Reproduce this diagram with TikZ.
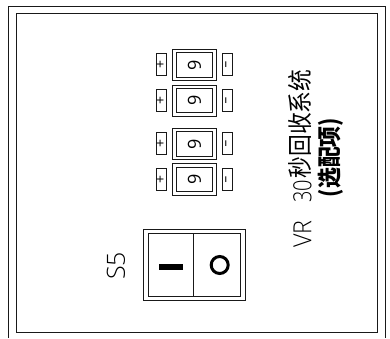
\documentclass[tikz,border=0pt]{standalone}
\usepackage{graphicx}
\usepackage{fontspec}
\setmainfont{Open Sans}[UprightFont=* Light]
\newfontfamily\regfont{Open Sans}
\newfontfamily\cjk{Noto Sans CJK SC}
\tikzset{
 x=1pt,y=-1pt,
 frame/.style={draw=black!90,line width=1pt},
 lbl/.style={rotate=90,inner sep=0,anchor=center},
 sign/.style={frame,minimum width=10pt,minimum height=22pt,inner sep=0},
}
\newcommand{\dispunit}[2]{%
 \draw[frame] (172.3,#1) rectangle (216,#1+31.3);
 \draw[frame] (176,#1+3.4) rectangle (212.7,#1+27.7);
 \node[lbl,font=\regfont\fontsize{18}{18}\selectfont] (n#2) at (194.5,#1+15.6) {9};
 \node[sign] (p#2) at (161,#1+15.6) {};
 \node[lbl,font=\regfont\fontsize{14}{14}\selectfont] at (p#2.center) {+};
 \node[sign] (m#2) at (227.5,#1+15.6) {};
 \node[lbl,font=\regfont\fontsize{14}{14}\selectfont] at (m#2.center) {\scalebox{1.7}[1]{-}};
}
\begin{document}
\begin{tikzpicture}
\useasboundingbox (0,0) rectangle (390,338);
\draw[frame] (8.3,338) -- (8.3,6.7) -- (385,6.7) -- (385,338);
\draw[frame] (16.7,13.3) rectangle (377,332.7);
\dispunit{49.3}{a}
\dispunit{85}{b}
\dispunit{128.3}{c}
\dispunit{163.7}{d}
\draw[frame] (143,229.3) rectangle (245,300.3);
\draw[frame] (148.3,233.3) rectangle (240,296.7);
\draw[frame] (193.7,233.3) -- (193.7,296.7);
\fill[black] (159.3,263.7) rectangle (182.7,269.7);
\draw[black,line width=3pt] (219.7,265) circle (8.5);
\node[lbl,font=\fontsize{25}{25}\selectfont] (s5) at (116,265.7) {S5};
\node[lbl,font=\fontsize{25}{25}\selectfont] (vr) at (302.5,234) {\scalebox{0.93}[1]{VR}};
\node[lbl,font=\fontsize{25}{25}\selectfont] (n30) at (302.5,191) {\scalebox{0.8}[1]{30}};
\node[lbl,font=\cjk\fontsize{25}{25}\selectfont] (t1) at (300,124) {\scalebox{0.87}[1]{秒回收系统}};
\node[lbl,font=\cjk\bfseries\fontsize{24}{24}\selectfont] (t2) at (331,157.5) {\scalebox{0.87}[1]{(选配项)}};
\end{tikzpicture}
\end{document}
